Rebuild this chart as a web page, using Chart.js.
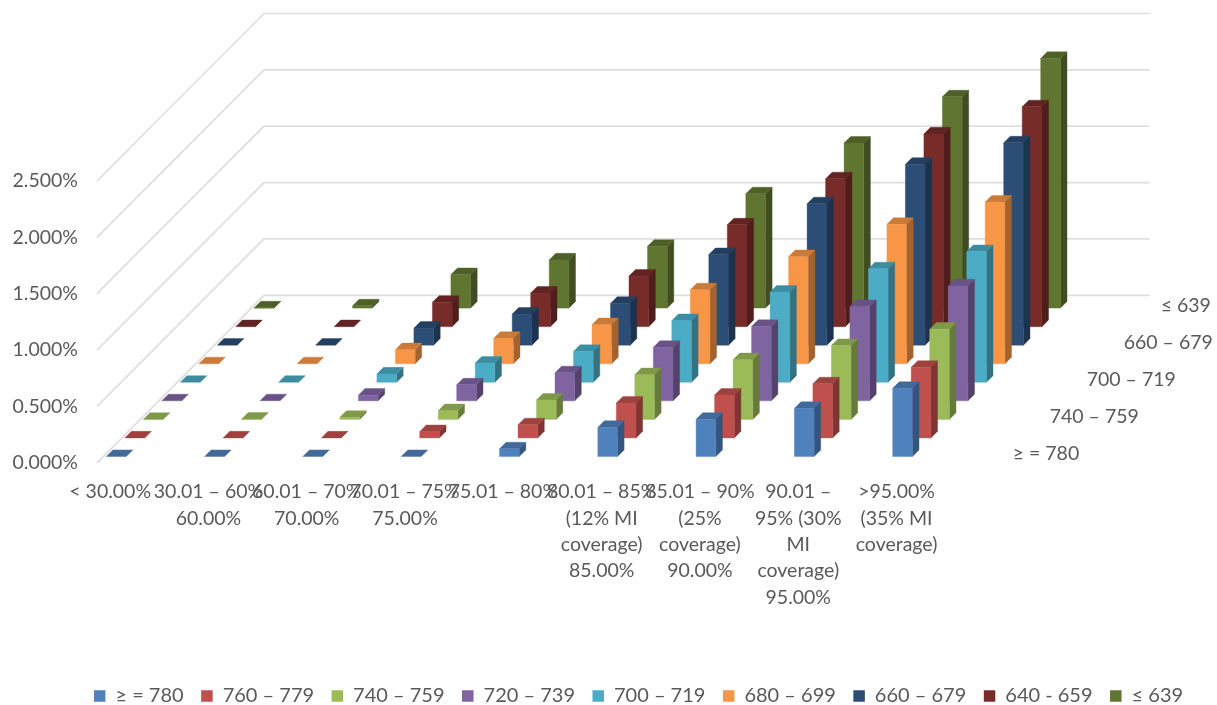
<!DOCTYPE html>
<html>
<head>
<meta charset="utf-8">
<title>Default rates by LTV and credit score</title>
<script src="https://cdn.jsdelivr.net/npm/chart.js@4"></script>
<style>
  html, body { margin: 0; padding: 0; background: #fff; }
  #wrap { position: relative; width: 1217px; height: 705px; }
</style>
</head>
<body>
<div id="wrap"><canvas id="chart"></canvas></div>
<script>
const ltvBuckets = [
  "< 30.00%",
  ["30.01 – 60%", "60.00%"],
  ["60.01 – 70%", "70.00%"],
  ["70.01 – 75%", "75.00%"],
  "75.01 – 80%",
  ["80.01 – 85%", "(12% MI", "coverage)", "85.00%"],
  ["85.01 – 90%", "(25%", "coverage)", "90.00%"],
  ["90.01 –", "95% (30%", "MI", "coverage)", "95.00%"],
  [">95.00%", "(35% MI", "coverage)"],
];

const scoreBands = [
  "≥ = 780", "760 – 779", "740 – 759", "720 – 739", "700 – 719",
  "680 – 699", "660 – 679", "640 - 659", "≤ 639",
];

// only every other band gets a label on the depth axis
const depthLabels = ["≥ = 780", "", "740 – 759", "", "700 – 719", "", "660 – 679", "", "≤ 639"];

const yTicks = [0, 0.5, 1, 1.5, 2, 2.5];

// values in percent, one list per score band
const score780 = [0, 0, 0, 0, 0.068, 0.258, 0.33, 0.427, 0.605];
const score760 = [0, 0, 0, 0.056, 0.117, 0.31, 0.38, 0.48, 0.627];
const score740 = [0, 0.002, 0.018, 0.077, 0.172, 0.397, 0.53, 0.655, 0.8];
const score720 = [0, 0.001, 0.05, 0.142, 0.249, 0.474, 0.66, 0.836, 1.02];
const score700 = [0, 0, 0.074, 0.171, 0.274, 0.547, 0.8, 1.007, 1.16];
const score680 = [0, 0, 0.125, 0.225, 0.347, 0.656, 0.95, 1.237, 1.435];
const score660 = [0, 0, 0.151, 0.276, 0.371, 0.804, 1.255, 1.605, 1.795];
const score640 = [0, 0, 0.216, 0.298, 0.449, 0.903, 1.312, 1.71, 1.95];
const score639 = [0.002, 0.02, 0.297, 0.427, 0.548, 1.014, 1.464, 1.874, 2.215];

const seriesValues = [score780, score760, score740, score720, score700, score680, score660, score640, score639];
const seriesColors = ["#4f81bd", "#c0504d", "#9bbb59", "#8064a2", "#4bacc6", "#f79646", "#2c4d75", "#772c2a", "#5f7530"];

const textColor = "#595959";
const fontFamily = "Lato, 'Open Sans', sans-serif";

// oblique projection settings
const DEPTH_X = 18.5;     // shift per series, to the right
const DEPTH_Y = 18.55;    // shift per series, upwards
const FLOOR_GAP = 6.3;    // front row sits slightly behind the floor edge
const BAR_SHIFT = -30;    // bars sit left of the slot centre
const BAR_SIDE = 6.6;     // visible depth of one bar
const WALL_X = 167;
const WALL_Y = 167.5;

function shade(hex, f) {
  const n = parseInt(hex.slice(1), 16);
  const r = Math.round(((n >> 16) & 255) * f);
  const g = Math.round(((n >> 8) & 255) * f);
  const b = Math.round((n & 255) * f);
  return `rgb(${r},${g},${b})`;
}

function face(ctx, color, pts) {
  ctx.fillStyle = color;
  ctx.strokeStyle = color;
  ctx.lineWidth = 0.4;
  ctx.beginPath();
  pts.forEach(([x, y], i) => (i ? ctx.lineTo(x, y) : ctx.moveTo(x, y)));
  ctx.closePath();
  ctx.fill();
  ctx.stroke();
}

// bar controller that paints each element as a small box
class Bar3DController extends Chart.BarController {
  draw() {
    const ctx = this.chart.ctx;
    const color = seriesColors[this.index];
    const offX = this.index * DEPTH_X + BAR_SHIFT;
    const offY = this.index * DEPTH_Y + FLOOR_GAP;

    this.getMeta().data.forEach((bar) => {
      const { x, y, base, width } = bar.getProps(["x", "y", "base", "width"], true);
      const l = x - width / 2 + offX;
      const r = l + width;
      const t = y - offY;
      const b = base - offY;

      face(ctx, shade(color, 0.66), [[r, t], [r + BAR_SIDE, t - BAR_SIDE], [r + BAR_SIDE, b - BAR_SIDE], [r, b]]);
      face(ctx, shade(color, 0.82), [[l, t], [l + BAR_SIDE, t - BAR_SIDE], [r + BAR_SIDE, t - BAR_SIDE], [r, t]]);
      if (b - t > 0.2) face(ctx, color, [[l, t], [r, t], [r, b], [l, b]]);
    });
  }
}
Bar3DController.id = "bar3d";
Bar3DController.defaults = Chart.BarController.defaults;
Chart.register(Bar3DController);

// back wall and side wall gridlines
const wallsPlugin = {
  id: "walls",
  beforeDatasetsDraw(chart) {
    const { ctx, scales } = chart;
    const left = scales.x.left;
    const right = scales.x.right;
    ctx.save();
    ctx.strokeStyle = "#dedede";
    ctx.lineWidth = 1.7;
    yTicks.forEach((v) => {
      const py = scales.y.getPixelForValue(v);
      ctx.beginPath();
      ctx.moveTo(left, py);
      ctx.lineTo(left + WALL_X, py - WALL_Y);
      ctx.lineTo(right + WALL_X + 1, py - WALL_Y);
      ctx.stroke();
    });
    ctx.restore();
  },
};

// labels along the depth axis, right of the floor
const depthAxisPlugin = {
  id: "depthAxis",
  afterDatasetsDraw(chart) {
    const { ctx, scales } = chart;
    const startX = scales.x.right + 31;
    const startY = scales.y.bottom - 9;
    ctx.save();
    ctx.font = `19.5px ${fontFamily}`;
    ctx.fillStyle = textColor;
    ctx.textBaseline = "middle";
    depthLabels.forEach((label, i) => {
      if (label) ctx.fillText(label, startX + i * DEPTH_X, startY - i * DEPTH_Y);
    });
    ctx.restore();
  },
};

// the legend row sits a little right of and below where the layout puts it
const legendShiftPlugin = {
  id: "legendShift",
  afterLayout(chart) {
    const legend = chart.legend;
    legend.left += 30;
    legend.right += 30;
    legend.top += 11;
    legend.bottom += 11;
  },
};

new Chart(document.getElementById("chart"), {
  type: "bar3d",
  data: {
    labels: ltvBuckets,
    datasets: scoreBands.map((name, i) => ({
      label: name,
      data: seriesValues[i],
      backgroundColor: seriesColors[i],
      borderWidth: 0,
      grouped: false,
      barThickness: 19.7,
      clip: false,
    })),
  },
  options: {
    responsive: true,
    maintainAspectRatio: false,
    animation: false,
    layout: { padding: { top: 181, left: 0, right: 0, bottom: 0 } },
    plugins: {
      tooltip: { enabled: false },
      legend: {
        position: "bottom",
        labels: {
          boxWidth: 11.5,
          boxHeight: 11.5,
          padding: 17.5,
          color: textColor,
          font: { family: fontFamily, size: 20 },
        },
      },
    },
    scales: {
      x: {
        type: "category",
        offset: true,
        grid: { display: false },
        border: { display: false },
        afterFit(scale) { scale.height = 194.7; },
        ticks: {
          autoSkip: false,
          maxRotation: 0,
          minRotation: 0,
          labelOffset: -36,
          padding: 8,
          color: textColor,
          font: { family: fontFamily, size: 19.5, lineHeight: 1.354 },
        },
      },
      y: {
        type: "linear",
        min: 0,
        max: 2.5,
        grid: { display: false, drawTicks: false },
        border: { display: false },
        afterFit(scale) { scale.width = 97; },
        ticks: {
          stepSize: 0.5,
          padding: 19,
          color: textColor,
          font: { family: fontFamily, size: 19.5 },
          callback: (v) => v.toFixed(3) + "%",
        },
      },
      // reserves the space on the right for the depth labels
      depth: {
        type: "category",
        axis: "y",
        position: "right",
        labels: scoreBands,
        grid: { display: false },
        border: { display: false },
        ticks: { display: false },
        afterFit(scale) { scale.width = 235.3; },
      },
    },
  },
  plugins: [wallsPlugin, depthAxisPlugin, legendShiftPlugin],
});
</script>
</body>
</html>
